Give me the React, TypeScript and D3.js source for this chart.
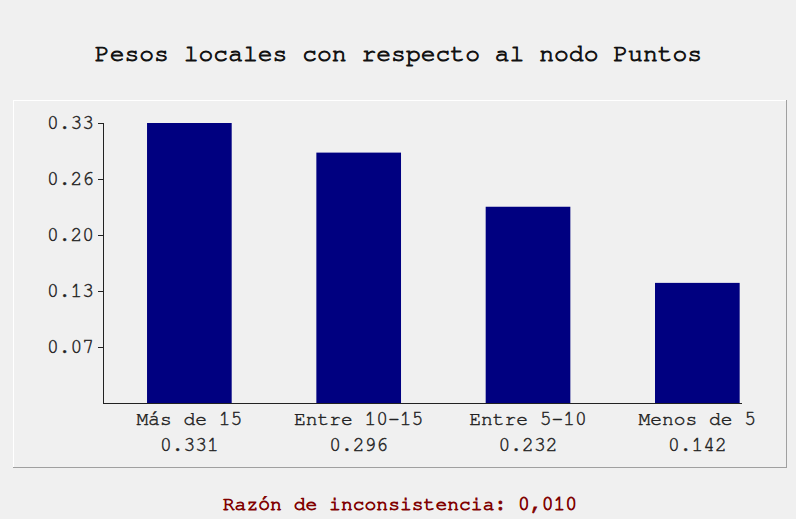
import React from "react";
import * as d3 from "d3";

const categories = ["Más de 15", "Entre 10-15", "Entre 5-10", "Menos de 5"];
const values = [0.331, 0.296, 0.232, 0.142];
const valueLabels = ["0.331", "0.296", "0.232", "0.142"];
const tickValues = [0.0662, 0.1324, 0.1986, 0.2648, 0.331];
const tickLabels = ["0.07", "0.13", "0.20", "0.26", "0.33"];
const title = "Pesos locales con respecto al nodo Puntos";
const footer = "Razón de inconsistencia: 0,010";

const W = 796;
const H = 519;
const FONT = "FreeMono, 'Nimbus Mono PS', 'Courier New', 'Liberation Mono', monospace";

export default function App() {
  const axisX = 103;
  const baseY = 403;
  const axisRight = 742;
  const y = d3.scaleLinear().domain([0, 0.331]).range([baseY, 123]);
  const x = d3
    .scaleBand<string>()
    .domain(categories)
    .range([104.7, 782])
    .paddingInner(0.5)
    .paddingOuter(0.25);

  const labelStyle = { stroke: "#222", strokeWidth: 0.45 };

  return (
    <svg
      width={W}
      height={H}
      style={{ position: "absolute", left: 0, top: 0, background: "#f0f0f0" }}
      fontFamily={FONT}
    >
      <rect x={0} y={0} width={W} height={H} fill="#f0f0f0" />
      <text x={398.5} y={61} textAnchor="middle" fontSize={24.7} fill="#111" stroke="#111" strokeWidth={0.9}>
        {title}
      </text>
      {/* panel */}
      <rect x={13} y={100} width={774} height={368} fill="#f0f0f0" />
      <line x1={13} y1={100.5} x2={787} y2={100.5} stroke="#ffffff" />
      <line x1={13.5} y1={100} x2={13.5} y2={468} stroke="#ffffff" />
      <line x1={13} y1={467.5} x2={787} y2={467.5} stroke="#a0a0a0" />
      <line x1={786.5} y1={100} x2={786.5} y2={468} stroke="#a0a0a0" />

      {categories.map((c, i) => (
        <rect
          key={c}
          x={x(c)}
          y={y(values[i])}
          width={x.bandwidth()}
          height={baseY - y(values[i])}
          fill="#000080"
        />
      ))}

      <line x1={axisX + 0.5} y1={y(tickValues[tickValues.length - 1])} x2={axisX + 0.5} y2={baseY} stroke="#222" />
      <line x1={axisX} y1={baseY + 0.5} x2={axisRight} y2={baseY + 0.5} stroke="#222" />
      {tickValues.map((t, i) => (
        <g key={i}>
          <line x1={axisX - 5} x2={axisX} y1={Math.round(y(t)) + 0.5} y2={Math.round(y(t)) + 0.5} stroke="#222" />
          <text x={axisX - 9} y={y(t) + 6} textAnchor="end" fontSize={19.6} fill="#222" style={labelStyle}>
            {tickLabels[i]}
          </text>
        </g>
      ))}

      {categories.map((c, i) => (
        <g key={c + "l"}>
          <text x={x(c)! + x.bandwidth() / 2} y={425} textAnchor="middle" fontSize={19.6} fill="#222" style={labelStyle}>
            {c}
          </text>
          <text x={x(c)! + x.bandwidth() / 2} y={451} textAnchor="middle" fontSize={19.6} fill="#222" style={labelStyle}>
            {valueLabels[i]}
          </text>
        </g>
      ))}

      <text x={400} y={510} textAnchor="middle" fontSize={19.7} fill="#800000" stroke="#800000" strokeWidth={0.8}>
        {footer}
      </text>
    </svg>
  );
}
